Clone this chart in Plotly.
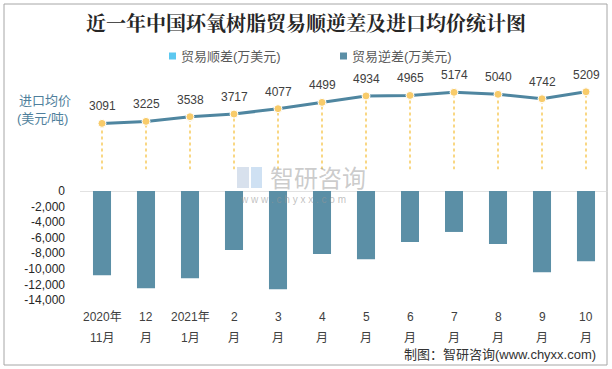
import plotly.graph_objects as go

# ---------------- data ----------------
cat_line1 = ["2020年", "12", "2021年", "2", "3", "4", "5", "6", "7", "8", "9", "10"]
cat_line2 = ["11月", "月", "1月", "月", "月", "月", "月", "月", "月", "月", "月", "月"]
categories = [f"{a}|{b}" for a, b in zip(cat_line1, cat_line2)]
deficit = [-10820, -12500, -11210, -7590, -12630, -8100, -8750, -6550, -5260, -6810, -10430, -9010]
surplus = [0, 0, 0, 0, 0, 0, 0, 0, 0, 0, 0, 0]
avg_price = [3091, 3225, 3538, 3717, 4077, 4499, 4934, 4965, 5174, 5040, 4742, 5209]
bar_ticks = [0, -2000, -4000, -6000, -8000, -10000, -12000, -14000]

# ---------------- layout constants ----------------
W, H = 612, 369
L, R, T, B = 80, 4, 60, 69
PW, PH = W - L - R, H - T - B


def px(xp):
    return (xp - L) / PW


def py(yp):
    return (T + PH - yp) / PH


FONT = "Liberation Sans, Arial, Noto Sans CJK SC, sans-serif"
BAR_COLOR = "#5b8fa6"
SURPLUS_COLOR = "#5cc8f0"
LINE_COLOR = "#4f86a0"
MARK_COLOR = "#f8cb6a"
DROP_COLOR = "#f9d783"

fig = go.Figure()

fig.add_trace(go.Bar(x=categories, y=surplus, marker_color=SURPLUS_COLOR,
                     width=0.41, showlegend=False, yaxis="y", hoverinfo="skip"))
fig.add_trace(go.Bar(x=categories, y=deficit, marker_color=BAR_COLOR,
                     marker_line_width=0, width=0.41, showlegend=False, yaxis="y"))

# drop lines (dotted) from each price point to the base
dx, dy = [], []
for c, v in zip(categories, avg_price):
    dx += [c, c, None]
    dy += [0, v, None]
fig.add_trace(go.Scatter(x=dx, y=dy, mode="lines", yaxis="y2",
                         line=dict(color=DROP_COLOR, width=2, dash="dot"),
                         showlegend=False, hoverinfo="skip"))

fig.add_trace(go.Scatter(x=categories, y=avg_price, mode="lines+markers", yaxis="y2",
                         line=dict(color=LINE_COLOR, width=3),
                         marker=dict(color=MARK_COLOR, size=8, line=dict(color="white", width=1)),
                         showlegend=False))

ann = []
for c, v in zip(categories, avg_price):
    ann.append(dict(x=c, y=v, xref="x", yref="y2", text=str(v), showarrow=False,
                    yshift=17, font=dict(family=FONT, size=12, color="#404040")))

for c, a, b in zip(categories, cat_line1, cat_line2):
    ann.append(dict(x=c, y=py(317), xref="x", yref="paper", text=a, showarrow=False,
                    yanchor="middle", font=dict(family=FONT, size=12, color="#404040")))
    ann.append(dict(x=c, y=py(338), xref="x", yref="paper", text=b, showarrow=False,
                    yanchor="middle", font=dict(family=FONT, size=12, color="#404040")))

# left axis caption for price
ann.append(dict(x=px(17), y=py(100), xref="paper", yref="paper", text="进口均价",
                showarrow=False, xanchor="left", yanchor="middle",
                font=dict(family=FONT, size=13, color="#4f7f9c")))
ann.append(dict(x=px(15), y=py(118), xref="paper", yref="paper", text="(美元/吨)",
                showarrow=False, xanchor="left", yanchor="middle",
                font=dict(family=FONT, size=13, color="#4f7f9c")))

# legend (manual)
ann.append(dict(x=px(179), y=py(56), xref="paper", yref="paper", text="贸易顺差(万美元)",
                showarrow=False, xanchor="left", yanchor="middle",
                font=dict(family=FONT, size=13, color="#595959")))
ann.append(dict(x=px(350), y=py(56), xref="paper", yref="paper", text="贸易逆差(万美元)",
                showarrow=False, xanchor="left", yanchor="middle",
                font=dict(family=FONT, size=13, color="#595959")))

# watermark
ann.append(dict(x=px(268), y=py(176), xref="paper", yref="paper", text="智研咨询",
                showarrow=False, xanchor="left", yanchor="middle",
                font=dict(family="Noto Sans CJK SC", size=24, color="rgba(160,160,160,0.55)")))
ann.append(dict(x=px(238), y=py(199), xref="paper", yref="paper",
                text="w w w . c h y x x . c o m",
                showarrow=False, xanchor="left", yanchor="middle",
                font=dict(family=FONT, size=10, color="rgba(150,150,150,0.6)")))

# footer
ann.append(dict(x=px(598), y=py(354), xref="paper", yref="paper",
                text="制图：智研咨询(www.chyxx.com)", showarrow=False,
                xanchor="right", yanchor="middle",
                font=dict(family=FONT, size=13, color="#333333")))

shapes = [
    # outer border
    dict(type="rect", xref="paper", yref="paper", x0=px(4), x1=px(607), y0=py(365), y1=py(4),
         line=dict(color="#a6a6a6", width=1), fillcolor="rgba(0,0,0,0)", layer="below"),
    # zero line for bars
    dict(type="line", xref="paper", yref="y", x0=0, x1=1, y0=0, y1=0,
         line=dict(color="#d9d9d9", width=1.5), layer="below"),
    # legend squares
    dict(type="rect", xref="paper", yref="paper", x0=px(169), x1=px(176), y0=py(59.5), y1=py(52.5),
         fillcolor=SURPLUS_COLOR, line=dict(width=0)),
    dict(type="rect", xref="paper", yref="paper", x0=px(340), x1=px(347), y0=py(59.5), y1=py(52.5),
         fillcolor=BAR_COLOR, line=dict(width=0)),
    # watermark logo (simplified)
    dict(type="rect", xref="paper", yref="paper", x0=px(237), x1=px(249), y0=py(188), y1=py(167),
         fillcolor="rgba(190,205,225,0.6)", line=dict(width=0)),
    dict(type="rect", xref="paper", yref="paper", x0=px(251), x1=px(262), y0=py(188), y1=py(167),
         fillcolor="rgba(175,205,235,0.6)", line=dict(width=0)),
]

fig.update_layout(
    width=W, height=H,
    margin=dict(l=L, r=R, t=T, b=B, autoexpand=False),
    paper_bgcolor="white", plot_bgcolor="white",
    barmode="overlay",
    showlegend=False,
    title=dict(text="<b>近一年中国环氧树脂贸易顺逆差及进口均价统计图</b>",
               x=0.5, xref="container", xanchor="center",
               y=1 - 24 / H, yref="container", yanchor="middle",
               font=dict(family="Noto Serif CJK SC, Noto Sans CJK SC", size=20, color="#262626")),
    xaxis=dict(categoryorder="array", categoryarray=categories, showticklabels=False,
               range=[-0.5, len(categories) - 0.5],
               showgrid=False, zeroline=False, showline=False, ticks="", automargin=False),
    yaxis=dict(domain=[0, py(191)], range=[-14000, 0], tickvals=bar_ticks,
               ticktext=[f"{v:,}" for v in bar_ticks], showgrid=False, zeroline=False,
               showline=False, ticks="", ticklabelstandoff=14, automargin=False,
               tickfont=dict(family=FONT, size=12, color="#262626")),
    yaxis2=dict(domain=[py(169.5), py(80)], range=[0, 6000], anchor="x", automargin=False,
                showgrid=False, zeroline=False, showline=False, showticklabels=False, ticks=""),
    annotations=ann,
    shapes=shapes,
)

fig.write_html("out.html", config={"displayModeBar": False},
               post_script="document.body.style.margin='0';document.body.style.padding='0';")
